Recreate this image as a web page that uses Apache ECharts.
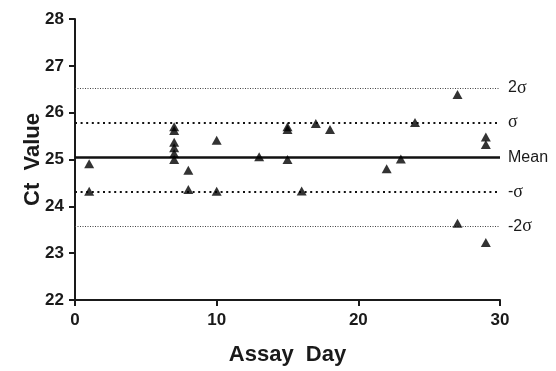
<!DOCTYPE html>
<html>
<head>
<meta charset="utf-8">
<script src="https://cdn.jsdelivr.net/npm/echarts@6/dist/echarts.min.js"></script>
<style>html,body{margin:0;padding:0;background:#fff}#c{width:556px;height:371px}</style>
</head>
<body>
<div id="c"></div>
<script>
const days = [1, 1, 7, 7, 7, 7, 7, 7, 8, 8, 10, 10, 13, 15, 15, 15, 16, 17, 18, 22, 23, 24, 27, 27, 29, 29, 29];
const ctValues = [24.91, 24.32, 25.70, 25.62, 25.37, 25.25, 25.13, 25.00, 24.77, 24.36, 25.41, 24.32, 25.06, 25.70, 25.64, 25.00, 24.33, 25.77, 25.64, 24.80, 25.01, 25.79, 26.39, 23.64, 25.48, 25.32, 23.23];
const refNames = ['2σ', 'σ', 'Mean', '-σ', '-2σ'];
const refValues = [26.53, 25.79, 25.05, 24.31, 23.57];
const refKinds = ['thin', 'dot', 'solid', 'dot', 'thin'];

const styles = {
  thin: {color: '#444', width: 1, type: [1, 1.5]},
  dot: {color: '#111', width: 2.2, type: [2, 3.6]},
  solid: {color: '#111', width: 2.6, type: 'solid'}
};

function labelText(name) {
  if (name === 'Mean') return '{s|Mean}';
  const i = name.indexOf('σ');
  return (i > 0 ? '{s|' + name.slice(0, i) + '}' : '') + '{g|σ}';
}

const chart = echarts.init(document.getElementById('c'), null, {renderer: 'canvas'});
chart.setOption({
  animation: false,
  backgroundColor: '#fff',
  grid: {left: 75, right: 56, top: 19, bottom: 70, containLabel: false},
  xAxis: {
    type: 'value', min: 0, max: 30, interval: 10,
    name: 'Assay  Day', nameLocation: 'middle', nameGap: 44, nameMoveOverlap: false,
    nameTextStyle: {fontFamily: 'Liberation Sans', fontWeight: 'bold', fontSize: 22, color: '#1a1a1a'},
    axisLine: {show: true, onZero: false, lineStyle: {color: '#1a1a1a', width: 2}},
    axisTick: {show: true, length: 6, lineStyle: {color: '#1a1a1a', width: 2}},
    axisLabel: {fontFamily: 'Liberation Sans', fontWeight: 'bold', fontSize: 17, color: '#1a1a1a', margin: 12},
    splitLine: {show: false}
  },
  yAxis: {
    type: 'value', min: 22, max: 28, interval: 1,
    name: 'Ct  Value', nameLocation: 'middle', nameGap: 31, nameRotate: 90, nameMoveOverlap: false,
    nameTextStyle: {fontFamily: 'Liberation Sans', fontWeight: 'bold', fontSize: 22, color: '#1a1a1a'},
    axisLine: {show: true, onZero: false, lineStyle: {color: '#1a1a1a', width: 2}},
    axisTick: {show: true, length: 6, lineStyle: {color: '#1a1a1a', width: 2}},
    axisLabel: {fontFamily: 'Liberation Sans', fontWeight: 'bold', fontSize: 17, color: '#1a1a1a', margin: 11},
    splitLine: {show: false}
  },
  series: [{
    type: 'scatter',
    symbol: 'triangle',
    symbolSize: [10, 9],
    itemStyle: {color: '#000'},
    data: days.map((d, i) => [d, ctValues[i]]),
    z: 5,
    markLine: {
      silent: true,
      symbol: 'none',
      animation: false,
      data: refValues.map((v, i) => ({
        yAxis: v,
        lineStyle: styles[refKinds[i]],
        label: {
          show: true, position: 'end', distance: 8,
          formatter: labelText(refNames[i]),
          rich: {
            s: {fontFamily: 'Liberation Sans', fontSize: 16, color: '#1a1a1a'},
            g: {fontFamily: 'Liberation Serif', fontSize: 18, color: '#1a1a1a'}
          }
        }
      }))
    }
  }]
});
</script>
</body>
</html>
